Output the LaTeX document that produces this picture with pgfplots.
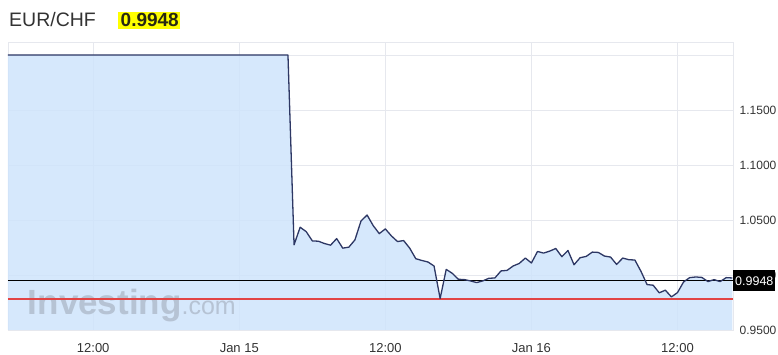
\documentclass[border=0pt]{standalone}
\usepackage{fontspec}
\setmainfont{Liberation Sans}
\usepackage{pgfplots}
\usepackage{pgfplotstable}
\pgfplotsset{compat=1.18}
\definecolor{areafill}{RGB}{207,228,251}
\definecolor{linecol}{RGB}{45,55,100}
\definecolor{gridcol}{RGB}{230,232,238}
\definecolor{txt}{RGB}{51,51,51}
\definecolor{wm}{RGB}{182,195,212}
\definecolor{hl}{RGB}{255,255,0}
\pgfplotstableread{
x y
5 1.2000
28 1.2000
28.5 1.0274
29 1.0434
29.5 1.0394
30 1.0310
30.5 1.0307
31 1.0286
31.5 1.0271
32 1.0331
32.5 1.0244
33 1.0253
33.5 1.0319
34 1.0491
34.5 1.0545
35 1.0449
35.5 1.0376
36 1.0419
36.5 1.0355
37 1.0304
37.5 1.0313
38 1.0244
38.5 1.0148
39 1.0132
39.5 1.0118
40 1.0082
40.5 0.9786
41 1.0051
41.5 1.0015
42 0.9961
42.5 0.9958
43 0.9946
43.5 0.9931
44 0.9946
44.5 0.9970
45 0.9973
45.5 1.0037
46 1.0042
46.5 1.0082
47 1.0105
47.5 1.0154
48 1.0109
48.5 1.0214
49 1.0199
49.5 1.0217
50 1.0241
50.5 1.0166
51 1.0223
51.5 1.0093
52 1.0157
52.5 1.0169
53 1.0208
53.5 1.0205
54 1.0172
54.5 1.0163
55 1.0096
55.5 1.0154
56 1.0139
56.5 1.0136
57 1.0033
57.5 0.9913
58 0.9907
58.5 0.9838
59 0.9862
59.5 0.9801
60 0.9840
60.5 0.9937
61 0.9976
61.5 0.9982
62 0.9978
62.5 0.9940
63 0.9958
63.5 0.9940
64 0.9976
64.5 0.9973
}\eurchf
\begin{document}
\begin{tikzpicture}
\useasboundingbox (0pt,0pt) rectangle (778pt,355pt);
\begin{axis}[at={(8pt,25pt)}, anchor=south west, scale only axis,
  width=725pt, height=288pt,
  xmin=5, xmax=64.56, ymin=0.95, ymax=1.2118,
  axis line style={draw=gridcol, line width=0.8pt},
  grid=major, grid style={draw=gridcol, line width=0.8pt},
  major tick length=0pt,
  xtick={12,24,36,48,60},
  xticklabels={12:00,Jan 15,12:00,Jan 16,12:00},
  ytick={0.95,1.00,1.05,1.10,1.15,1.20},
  yticklabels={0.9500,1.0000,1.0500,1.1000,1.1500,{}},
  yticklabel pos=right,
  xticklabel style={font=\fontsize{13}{13}\selectfont, text=txt, anchor=base, yshift=-22.5pt},
  yticklabel style={font=\fontsize{12}{12}\selectfont, text=txt, anchor=west, inner sep=0pt, xshift=6.5pt},
  /pgf/number format/assume math mode=true,
]
\addplot[draw=none, fill=areafill, fill opacity=0.85] table[x=x,y=y] {\eurchf} \closedcycle;
\node[anchor=base west, inner sep=0pt, text=wm] at (axis cs:6.62,0.9639)
  {\fontsize{35}{35}\selectfont\bfseries Investing\fontsize{25}{25}\selectfont\mdseries.com};
\addplot[draw={rgb,255:red,226;green,68;blue,68}, line width=1.6pt] coordinates {(5,0.978) (64.56,0.978)};
\addplot[draw=black, line width=1.2pt] coordinates {(5,0.9948) (64.56,0.9948)};
\addplot[draw=linecol, line width=1.3pt, line join=round] table[x=x,y=y] {\eurchf};
\coordinate (cur) at (axis cs:64.56,0.9948);
\end{axis}
\node[fill=black, text=white, anchor=west, inner xsep=2pt, inner ysep=0pt, minimum height=21pt,
  font=\fontsize{12.5}{12.5}\selectfont] at (cur) {0.9948};
\fill[hl] (118pt,325.7pt) rectangle (180pt,343pt);
\node[anchor=base west, inner sep=0pt, text=txt, font=\fontsize{19.5}{19.5}\selectfont] at (9pt,328.3pt) {EUR/CHF};
\node[anchor=base west, inner sep=0pt, text={rgb,255:red,40;green,40;blue,20}, font=\fontsize{19}{19}\selectfont\bfseries] at (120.5pt,328.3pt) {0.9948};
\end{tikzpicture}
\end{document}
